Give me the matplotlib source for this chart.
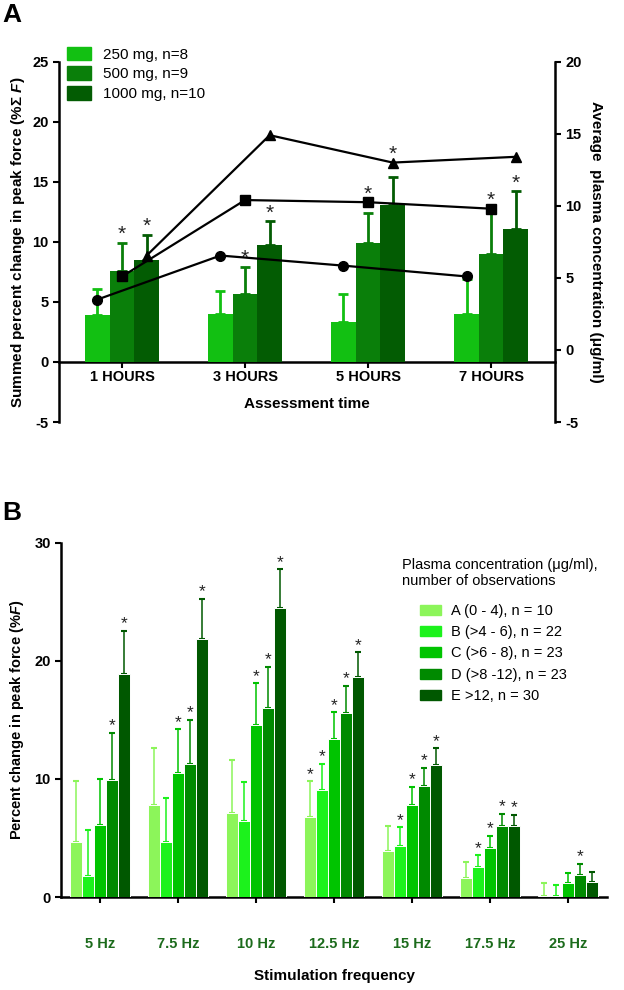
import numpy as np
import matplotlib
matplotlib.use("Agg")
import matplotlib.pyplot as plt
from matplotlib.patches import Patch

plt.rcParams['font.family'] = ['Liberation Sans', 'DejaVu Sans']
plt.rcParams['axes.unicode_minus'] = False
plt.rcParams['mathtext.fontset'] = 'custom'
plt.rcParams['mathtext.rm'] = 'Liberation Sans:bold'
plt.rcParams['mathtext.it'] = 'Liberation Sans:italic:bold'
plt.rcParams['mathtext.bf'] = 'Liberation Sans:bold'

# ---- Panel A data ----
hours = ['1 HOURS', '3 HOURS', '5 HOURS', '7 HOURS']
dose_labels = ['250 mg, n=8', '500 mg, n=9', '1000 mg, n=10']
force_250 = [3.9, 4.0, 3.3, 4.0]
force_250_err = [2.2, 1.9, 2.4, 2.9]
force_500 = [7.6, 5.7, 9.9, 9.0]
force_500_err = [2.3, 2.2, 2.5, 3.5]
force_1000 = [8.5, 9.7, 13.1, 11.1]
force_1000_err = [2.1, 2.0, 2.3, 3.1]
sig_500 = [1, 1, 1, 1]
sig_1000 = [1, 1, 1, 1]

conc_250 = [3.5, 6.55, 5.85, 5.1]
conc_500 = [5.1, 10.4, 10.25, 9.8]
conc_1000 = [6.55, 14.9, 13.0, 13.4]

# ---- Panel B data ----
freqs = ['5 Hz', '7.5 Hz', '10 Hz', '12.5 Hz', '15 Hz', '17.5 Hz', '25 Hz']
group_labels = ['A (0 - 4), n = 10', 'B (>4 - 6), n = 22', 'C (>6 - 8), n = 23',
                'D (>8 -12), n = 23', 'E >12, n = 30']
grp_a = [4.7, 7.8, 7.1, 6.8, 3.9, 1.65, 0.05]
grp_a_err = [5.15, 4.85, 4.5, 3.0, 2.1, 1.3, 1.15]
grp_b = [1.8, 4.7, 6.4, 9.05, 4.3, 2.55, 0.1]
grp_b_err = [3.9, 3.65, 3.3, 2.25, 1.6, 1.0, 0.9]
grp_c = [6.1, 10.5, 14.6, 13.4, 7.8, 4.15, 1.15]
grp_c_err = [3.9, 3.7, 3.5, 2.25, 1.55, 1.05, 0.85]
grp_d = [9.9, 11.3, 16.0, 15.6, 9.4, 6.05, 1.9]
grp_d_err = [4.0, 3.7, 3.5, 2.3, 1.55, 1.0, 0.9]
grp_e = [18.9, 21.85, 24.5, 18.6, 11.2, 6.0, 1.3]
grp_e_err = [3.65, 3.4, 3.25, 2.1, 1.4, 0.95, 0.8]
sig_a = [0, 0, 0, 1, 0, 0, 0]
sig_b = [0, 0, 0, 1, 1, 1, 0]
sig_c = [0, 1, 1, 1, 1, 1, 0]
sig_d = [1, 1, 1, 1, 1, 1, 1]
sig_e = [1, 1, 1, 1, 1, 1, 0]

cols_a = ['#12c012', '#0a7f0a', '#035c03']
cols_b = ['#8cf55a', '#1cf21c', '#00c400', '#008a00', '#005800']

fig = plt.figure(figsize=(6.24, 9.9), dpi=100)

# ================= Panel A =================
ax = fig.add_axes([0.0946, 0.5737, 0.795, 0.364])
# spine position first: it resets the tick objects
ax.spines['bottom'].set_position(('data', 0))
ax.spines['top'].set_visible(False)
ax.spines['right'].set_visible(False)
for s in ('left', 'bottom'):
    ax.spines[s].set_linewidth(1.8)

x = np.arange(len(hours))
w = 0.2
bar_sets = [(force_250, force_250_err), (force_500, force_500_err), (force_1000, force_1000_err)]
for i, (vals, errs) in enumerate(bar_sets):
    xs = x + (i - 1) * w
    ax.bar(xs, vals, w, color=cols_a[i], zorder=3, label=dose_labels[i])
    ax.errorbar(xs, vals, yerr=[np.zeros(len(vals)), errs], fmt='none', ecolor=cols_a[i],
                elinewidth=2, capsize=3.5, capthick=2, zorder=2)

ax.set_xlim(-0.512, 3.52)
ax.set_ylim(-5, 25)
ax.set_yticks([-5, 0, 5, 10, 15, 20, 25])
ax.set_xticks(x)
ax.tick_params(axis='both', labelsize=10.5, width=1.5, length=4)
ax.tick_params(axis='x', pad=2)
ax.set_xticklabels(hours, fontweight='bold', fontsize=10.5)
for t in ax.get_yticklabels():
    t.set_fontweight('bold')
ax.set_ylabel(r'Summed percent change in peak force (%$\Sigma$ $\mathit{F}$)',
              fontweight='bold', fontsize=11, labelpad=4)
ax.set_xlabel('Assessment time', fontweight='bold', fontsize=11, labelpad=9)

axr = ax.twinx()
axr.set_ylim(-5, 20)
axr.set_yticks([-5, 0, 5, 10, 15, 20])
axr.tick_params(axis='y', labelsize=10.5, width=1.5, length=4)
for t in axr.get_yticklabels():
    t.set_fontweight('bold')
for s in ('top', 'left', 'bottom'):
    axr.spines[s].set_visible(False)
axr.spines['right'].set_linewidth(1.8)
axr.set_ylabel('Average  plasma concentration (\u03bcg/ml)', fontweight='bold', fontsize=11,
               rotation=270, labelpad=15)
axr.plot(x - w, conc_250, 'k-o', lw=1.6, ms=7, zorder=5)
axr.plot(x, conc_500, 'k-s', lw=1.6, ms=7, zorder=5)
axr.plot(x + w, conc_1000, 'k-^', lw=1.6, ms=7, zorder=5)


def to_left(r):
    # right axis (-5..20) onto left axis (-5..25)
    return -5 + (r + 5) * 30.0 / 25.0


for i, (vals, errs, sig, conc) in enumerate([(force_500, force_500_err, sig_500, conc_500),
                                              (force_1000, force_1000_err, sig_1000, conc_1000)]):
    for j in range(len(vals)):
        if not sig[j]:
            continue
        top = vals[j] + errs[j]
        mk = to_left(conc[j])
        if top - 0.5 < mk < top + 1.7:
            top = mk
        ax.annotate('*', xy=(x[j] + i * w, top), xytext=(0, 6), textcoords='offset points',
                    ha='center', va='center', fontsize=15, color='#222222', zorder=6)

fig.legend(handles=[Patch(color=c) for c in cols_a], labels=dose_labels,
           loc='upper left', bbox_to_anchor=(0.107, 0.953), frameon=False,
           fontsize=11, handlelength=1.6, handleheight=1.0, handletextpad=0.75,
           labelspacing=0.3, borderpad=0, borderaxespad=0)

fig.text(0.003, 0.997, 'A', fontsize=19, fontweight='bold', va='top', ha='left')

# ================= Panel B =================
bx = fig.add_axes([0.0978, 0.0939, 0.875, 0.358])
bx.spines['top'].set_visible(False)
bx.spines['right'].set_visible(False)
for s in ('left', 'bottom'):
    bx.spines[s].set_linewidth(1.8)

xb = np.arange(len(freqs))
wb = 0.154
series = [(grp_a, grp_a_err, sig_a), (grp_b, grp_b_err, sig_b), (grp_c, grp_c_err, sig_c),
          (grp_d, grp_d_err, sig_d), (grp_e, grp_e_err, sig_e)]
for i, (vals, errs, sig) in enumerate(series):
    xs = xb + (i - 2) * wb
    bx.bar(xs, vals, wb, color=cols_b[i], edgecolor='white', linewidth=0.7, zorder=3)
    bx.errorbar(xs, vals, yerr=[np.zeros(len(vals)), errs], fmt='none', ecolor=cols_b[i],
                elinewidth=1.1, capsize=2, capthick=1.5, zorder=2)
    for j in range(len(vals)):
        if sig[j]:
            bx.annotate('*', xy=(xs[j], vals[j] + errs[j]), xytext=(0, 5),
                        textcoords='offset points', ha='center', va='center',
                        fontsize=12.5, color='#222222', zorder=6)

bx.set_xlim(-0.5, 6.5)
bx.set_ylim(0, 30)
bx.set_yticks([0, 10, 20, 30])
bx.set_xticks(xb)
bx.tick_params(axis='both', labelsize=10.5, width=1.5, length=4)
bx.tick_params(axis='x', pad=25)
bx.set_xticklabels(freqs, fontweight='bold', fontsize=10.5, color='#1c6b1c')
for t in bx.get_yticklabels():
    t.set_fontweight('bold')
bx.set_ylabel(r'Percent change in peak force (%$\mathit{F}$)', fontweight='bold',
              fontsize=10.5, labelpad=6)
bx.set_xlabel('Stimulation frequency', fontweight='bold', fontsize=11, labelpad=13)

fig.text(0.644, 0.4365, 'Plasma concentration (\u03bcg/ml),\nnumber of observations',
         fontsize=10.5, va='top', ha='left', linespacing=1.15)
fig.legend(handles=[Patch(color=c) for c in cols_b], labels=group_labels,
           loc='upper left', bbox_to_anchor=(0.673, 0.390), frameon=False,
           fontsize=10.5, handlelength=1.45, handleheight=0.7, handletextpad=0.7,
           labelspacing=0.5, borderpad=0, borderaxespad=0)

fig.text(0.003, 0.494, 'B', fontsize=19, fontweight='bold', va='top', ha='left')

fig.savefig('out.png', dpi=100)
